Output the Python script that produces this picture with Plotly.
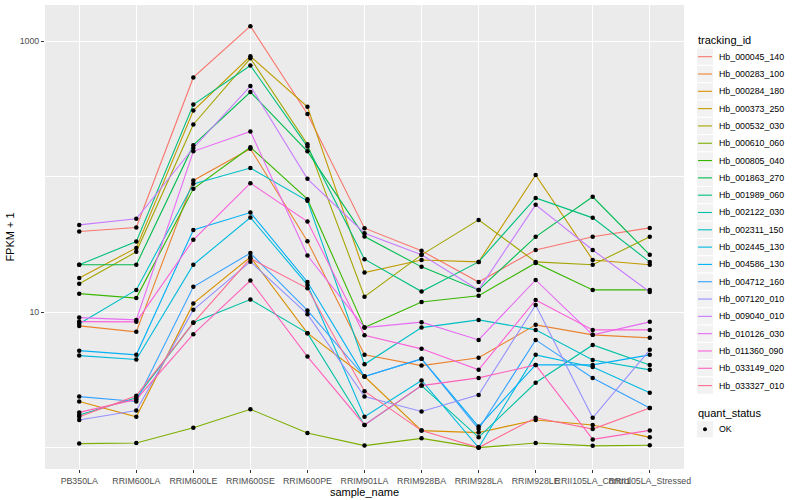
import plotly.graph_objects as go

samples = ["PB350LA", "RRIM600LA", "RRIM600LE", "RRIM600SE", "RRIM600PE",
           "RRIM901LA", "RRIM928BA", "RRIM928LA", "RRIM928LE",
           "RRII105LA_Control", "RRII105LA_Stressed"]

tracking_ids = ["Hb_000045_140", "Hb_000283_100", "Hb_000284_180", "Hb_000373_250",
                "Hb_000532_030", "Hb_000610_060", "Hb_000805_040", "Hb_001863_270",
                "Hb_001989_060", "Hb_002122_030", "Hb_002311_150", "Hb_002445_130",
                "Hb_004586_130", "Hb_004712_160", "Hb_007120_010", "Hb_009040_010",
                "Hb_010126_030", "Hb_011360_090", "Hb_033149_020", "Hb_033327_010"]

colors = ["#F8766D", "#EA8331", "#D89000", "#C09B00", "#A3A500", "#7CAE00", "#39B600",
          "#00BB4E", "#00BF7D", "#00C1A3", "#00BFC4", "#00BAE0", "#00B0F6", "#35A2FF",
          "#9590FF", "#C77CFF", "#E76BF3", "#FA62DB", "#FF62BC", "#FF6C91"]

quant_status = ["OK"]

# FPKM + 1 values per tracking_id, in sample order
Hb_000045_140 = [39.4, 42.2, 541, 1294, 291, 41.7, 28.4, 16.7, 28.8, 36.0, 41.9]
Hb_000283_100 = [7.92, 7.16, 93.8, 161, 33.4, 4.84, 4.03, 4.60, 8.06, 6.80, 6.46]
Hb_000284_180 = [2.19, 1.69, 11.6, 25.5, 7.00, 3.35, 1.335, 1.29, 1.60, 1.47, 1.19]
Hb_000373_250 = [17.9, 29.8, 308, 775, 328, 19.6, 24.3, 23.5, 103, 24.3, 22.4]
Hb_000532_030 = [16.2, 27.9, 243, 749, 174, 13.0, 26.5, 48.0, 23.5, 22.4, 36.0]
Hb_000610_060 = [1.07, 1.08, 1.40, 1.92, 1.28, 1.035, 1.17, 1.00, 1.08, 1.03, 1.04]
Hb_000805_040 = [13.7, 12.7, 81.4, 165, 68.3, 7.69, 11.9, 13.2, 23.1, 14.6, 14.6]
Hb_001863_270 = [22.4, 22.4, 171, 422, 154, 36.2, 21.6, 14.6, 36.0, 71.1, 26.5]
Hb_001989_060 = [22.4, 33.2, 341, 663, 167, 24.6, 14.2, 23.5, 69.8, 49.7, 23.5]
Hb_002122_030 = [1.74, 2.33, 8.38, 12.4, 7.00, 1.47, 2.87, 1.19, 3.01, 5.73, 4.08]
Hb_002311_150 = [8.20, 14.6, 88.6, 116, 66.4, 4.12, 7.69, 8.77, 7.40, 4.44, 3.75]
Hb_002445_130 = [4.78, 4.47, 22.4, 50.0, 15.9, 1.69, 3.13, 1.00, 4.84, 3.94, 2.54]
Hb_004586_130 = [5.20, 4.84, 40.5, 54.4, 16.7, 3.35, 4.52, 1.43, 4.08, 4.08, 4.84]
Hb_004712_160 = [2.38, 2.19, 15.4, 27.3, 10.3, 3.35, 4.52, 1.37, 6.24, 3.27, 1.96]
Hb_007120_010 = [1.60, 1.88, 10.4, 23.6, 9.66, 2.38, 1.85, 2.45, 11.3, 1.66, 5.27]
Hb_009040_010 = [44.1, 48.9, 163, 467, 96.5, 38.3, 26.5, 14.6, 62.0, 28.8, 14.1]
Hb_010126_030 = [9.12, 8.77, 154, 216, 26.2, 7.69, 8.44, 6.24, 17.3, 6.80, 8.48]
Hb_011360_090 = [8.52, 8.48, 34.2, 89.7, 46.7, 6.76, 5.36, 3.75, 12.3, 7.40, 7.40]
Hb_033149_020 = [1.82, 2.27, 6.88, 17.1, 4.70, 1.47, 2.87, 3.27, 4.08, 1.15, 1.34]
Hb_033327_010 = [1.69, 2.41, 8.34, 24.9, 15.0, 2.61, 1.335, 1.00, 1.66, 1.37, 1.96]

series = [Hb_000045_140, Hb_000283_100, Hb_000284_180, Hb_000373_250, Hb_000532_030,
          Hb_000610_060, Hb_000805_040, Hb_001863_270, Hb_001989_060, Hb_002122_030,
          Hb_002311_150, Hb_002445_130, Hb_004586_130, Hb_004712_160, Hb_007120_010,
          Hb_009040_010, Hb_010126_030, Hb_011360_090, Hb_033149_020, Hb_033327_010]

y_tick_vals = [10, 1000]
y_tick_text = ["10", "1000"]
y_minor_vals = [1, 100]

FONT = "Liberation Sans, Arial, sans-serif"
W, H = 800, 500
ML, MR, MT, MB = 45, 116, 5, 31
PW, PH = W - ML - MR, H - MT - MB


def px(x):
    return (x - ML) / PW


def py(y):
    return (H - MB - y) / PH


fig = go.Figure()
for name, vals, col in zip(tracking_ids, series, colors):
    fig.add_trace(go.Scatter(x=samples, y=vals, mode="lines", name=name,
                             line=dict(color=col, width=1.1), showlegend=False))

all_x = [s for _ in series for s in samples]
all_y = [v for vals in series for v in vals]
fig.add_trace(go.Scatter(x=all_x, y=all_y, mode="markers", name=quant_status[0],
                         marker=dict(color="black", size=4.5), showlegend=False))

# ---- legend drawn in ggplot style (keys with grey boxes) ----
shapes = []
annotations = []
key_x0, key_x1 = 696.5, 713.5
text_x = 716.5
annotations.append(dict(text="tracking_id", x=px(695.5), y=py(40.5), xref="paper", yref="paper",
                        xanchor="left", yanchor="middle", showarrow=False,
                        font=dict(size=11, color="black", family=FONT)))
step = 17.31
for i, (name, col) in enumerate(zip(tracking_ids, colors)):
    cy = 56.7 + step * i
    shapes.append(dict(type="rect", xref="paper", yref="paper",
                       x0=px(key_x0), x1=px(key_x1), y0=py(cy - step / 2), y1=py(cy + step / 2),
                       fillcolor="#F2F2F2", line=dict(color="white", width=1), layer="above"))
    shapes.append(dict(type="line", xref="paper", yref="paper",
                       x0=px(key_x0 + 1.5), x1=px(key_x1 - 1.5), y0=py(cy), y1=py(cy),
                       line=dict(color=col, width=1.1), layer="above"))
    annotations.append(dict(text=name, x=px(text_x), y=py(cy), xref="paper", yref="paper",
                            xanchor="left", yanchor="middle", showarrow=False,
                            font=dict(size=8.8, color="black", family=FONT)))

annotations.append(dict(text="quant_status", x=px(695.5), y=py(412.5), xref="paper", yref="paper",
                        xanchor="left", yanchor="middle", showarrow=False,
                        font=dict(size=11, color="black", family=FONT)))
cy = 429.3
shapes.append(dict(type="rect", xref="paper", yref="paper",
                   x0=px(key_x0), x1=px(key_x1), y0=py(cy - step / 2), y1=py(cy + step / 2),
                   fillcolor="#F2F2F2", line=dict(color="white", width=1), layer="above"))
shapes.append(dict(type="circle", xref="paper", yref="paper",
                   x0=px(703), x1=px(707), y0=py(cy + 2), y1=py(cy - 2),
                   fillcolor="black", line=dict(color="black", width=0), layer="above"))
annotations.append(dict(text=quant_status[0], x=px(text_x), y=py(cy), xref="paper", yref="paper",
                        xanchor="left", yanchor="middle", showarrow=False,
                        font=dict(size=8.8, color="black", family=FONT)))

fig.update_layout(
    width=W, height=H,
    margin=dict(l=ML, r=MR, t=MT, b=MB),
    paper_bgcolor="white", plot_bgcolor="#EBEBEB",
    font=dict(family=FONT, color="black"),
    showlegend=False,
    shapes=shapes, annotations=annotations,
    xaxis=dict(type="category", categoryorder="array", categoryarray=samples,
               range=[-0.6, 10.6], showgrid=True, gridcolor="white", gridwidth=1.1,
               zeroline=False, showline=False, ticks="outside", ticklen=3,
               tickcolor="#333333", tickwidth=1, tickangle=0,
               tickfont=dict(size=8.8, color="#4D4D4D", family=FONT),
               title=dict(text="sample_name", font=dict(size=11, color="black"), standoff=1)),
    yaxis=dict(type="log", range=[-0.158, 3.268], tickmode="array",
               tickvals=y_tick_vals, ticktext=y_tick_text,
               showgrid=True, gridcolor="white", gridwidth=1.1,
               minor=dict(tickvals=y_minor_vals, showgrid=True, gridcolor="white",
                          gridwidth=0.55, ticks=""),
               zeroline=False, showline=False, ticks="outside", ticklen=3,
               tickcolor="#333333", tickwidth=1,
               tickfont=dict(size=8.8, color="#4D4D4D", family=FONT),
               title=dict(text="FPKM + 1", font=dict(size=11, color="black"), standoff=2)),
)

fig.write_html("out.html", config={"displayModeBar": False},
               post_script="document.body.style.margin='0';")
